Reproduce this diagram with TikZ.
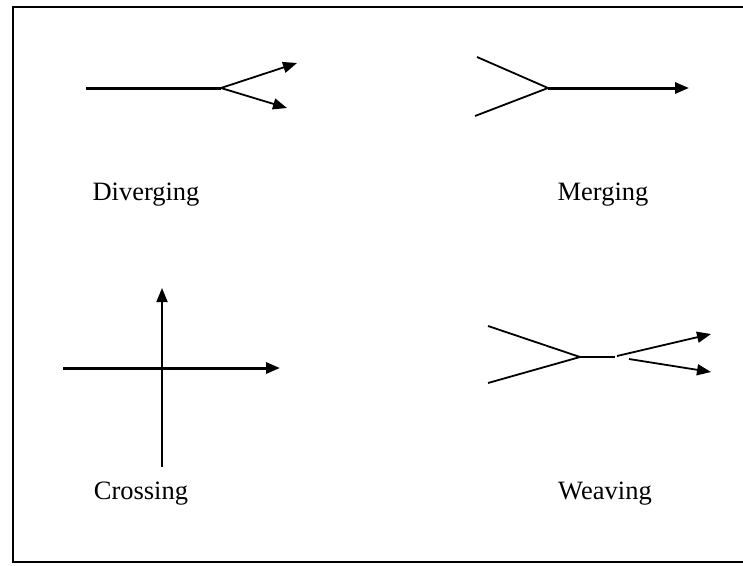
\documentclass[tikz,border=0pt]{standalone}
\usepackage{fontspec}
\setmainfont{Liberation Serif}
\usetikzlibrary{arrows.meta}
\begin{document}
\begin{tikzpicture}[x=1pt,y=-1pt,
  thickline/.style={line width=3pt},
  thinline/.style={line width=1.8pt},
  arr/.style={-{Triangle[length=14pt,width=11pt]}},
  lbl/.style={font=\fontsize{26.5}{30}\selectfont, inner sep=0pt}]
\useasboundingbox (0,0) rectangle (743,565);
% frame (open at right)
\coordinate (ftr) at (745,7);
\coordinate (ftl) at (13,7);
\coordinate (fbl) at (13,562);
\coordinate (fbr) at (745,562);
\draw[line width=2.5pt] (ftr) -- (ftl) -- (fbl) -- (fbr);
% Diverging
\coordinate (d0) at (86,88);
\coordinate (dj) at (221,88);
\coordinate (d1) at (297,63);
\coordinate (d2) at (287,108);
\draw[thickline] (d0) -- (dj);
\draw[thinline,arr] (dj) -- (d1);
\draw[thinline,arr] (dj) -- (d2);
\node[lbl] (ldiv) at (146,195) {Diverging};
% Merging
\coordinate (m1) at (477,57);
\coordinate (m2) at (475,116);
\coordinate (mj) at (548,88);
\coordinate (mt) at (689,88);
\draw[thinline] (m1) -- (mj);
\draw[thinline] (m2) -- (mj);
\draw[thickline,arr] (mj) -- (mt);
\node[lbl] (lmer) at (603,195) {Merging};
% Crossing
\coordinate (c0) at (63,368);
\coordinate (c1) at (280,368);
\coordinate (cb) at (162,467);
\coordinate (ct) at (162,288);
\draw[thickline,arr] (c0) -- (c1);
\draw[thinline,arr] (cb) -- (ct);
\node[lbl] (lcro) at (141,494) {Crossing};
% Weaving
\coordinate (w1) at (488,326);
\coordinate (w2) at (488,383);
\coordinate (wj) at (580,357);
\coordinate (wk) at (615,357);
\coordinate (wa) at (617,356);
\coordinate (wb) at (629,359);
\coordinate (wt1) at (711,334);
\coordinate (wt2) at (711,372);
\draw[thinline] (w1) -- (wj);
\draw[thinline] (w2) -- (wj);
\draw[thinline] (wj) -- (wk);
\draw[thinline,arr] (wa) -- (wt1);
\draw[thinline,arr] (wb) -- (wt2);
\node[lbl] (lwea) at (605,494) {Weaving};
\end{tikzpicture}
\end{document}
